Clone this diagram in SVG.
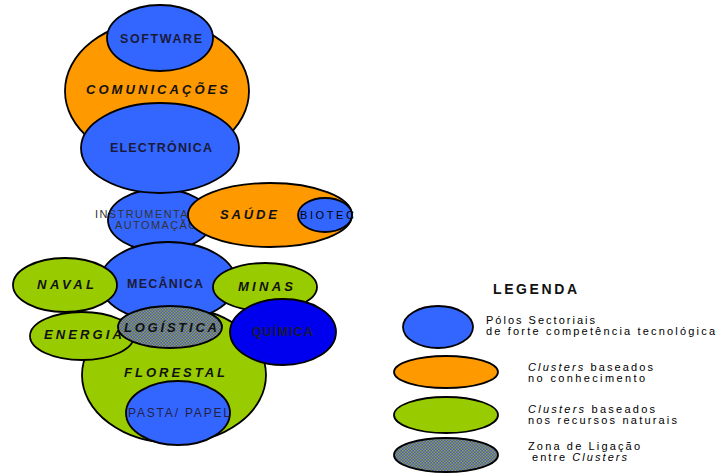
<svg xmlns="http://www.w3.org/2000/svg" width="716" height="473" viewBox="0 0 716 473">
<defs>
<pattern id="hatch" width="3" height="3" patternUnits="userSpaceOnUse">
<rect width="3" height="3" fill="#4a5fc8"/>
<rect x="0" y="0" width="1.5" height="1.5" fill="#8f9f40"/>
<rect x="1.5" y="1.5" width="1.5" height="1.5" fill="#8f9f40"/>
</pattern>
</defs>
<style>
ellipse{stroke:#000;stroke-width:1.8}
.b{fill:#3366ff}
.o{fill:#ff9900}
.g{fill:#99cc00}
.q{fill:#0000ee}
.h{fill:url(#hatch)}
text{font-family:"Liberation Sans",Arial,sans-serif}
.lb{font-size:12.5px;font-weight:bold;fill:#1a1a3a}
.li{font-size:13px;font-weight:bold;font-style:italic;fill:#111}
.lr{font-size:12px;fill:#222244}
.lg{font-size:11px;fill:#000}
.ls{font-size:11px;fill:#333}
</style>
<rect width="716" height="473" fill="#fff"/>

<g id="comunicacoes">
<ellipse class="o" cx="157" cy="91" rx="92" ry="70"/>
<text class="li" x="86" y="94" textLength="142" lengthAdjust="spacing">COMUNICAÇÕES</text>
</g>
<g id="software">
<ellipse class="b" cx="160" cy="38" rx="53" ry="33"/>
<text class="lb" x="120" y="43" textLength="82" lengthAdjust="spacing">SOFTWARE</text>
</g>
<g id="instrumentacao">
<ellipse class="b" cx="160" cy="220" rx="52" ry="31"/>
<text class="ls" x="95" y="218" letter-spacing="1.4">INSTRUMENTAÇÃO</text>
<text class="ls" x="115" y="229" letter-spacing="1.4">AUTOMAÇÃO</text>
</g>
<g id="electronica">
<ellipse class="b" cx="160" cy="148" rx="79" ry="45"/>
<text class="lb" x="110" y="152" textLength="102" lengthAdjust="spacing">ELECTRÓNICA</text>
</g>
<g id="saude">
<ellipse class="o" cx="270" cy="215" rx="82" ry="32"/>
<text class="li" x="220" y="219" textLength="57" lengthAdjust="spacing">SAÚDE</text>
</g>
<g id="biotec">
<ellipse class="b" cx="325" cy="215" rx="27" ry="17"/>
<text class="lg" x="300" y="219" textLength="54" lengthAdjust="spacing">BIOTEC</text>
</g>
<g id="florestal">
<ellipse class="g" cx="174" cy="375" rx="92" ry="68"/>
<text class="li" x="124" y="377" textLength="101" lengthAdjust="spacing">FLORESTAL</text>
</g>
<g id="mecanica">
<ellipse class="b" cx="168" cy="282" rx="68" ry="40"/>
<text class="lb" x="127" y="288" textLength="76" lengthAdjust="spacing">MECÂNICA</text>
</g>
<g id="naval">
<ellipse class="g" cx="65" cy="285" rx="52" ry="27"/>
<text class="li" x="37" y="289" textLength="57" lengthAdjust="spacing">NAVAL</text>
</g>
<g id="minas">
<ellipse class="g" cx="265" cy="287" rx="52" ry="24"/>
<text class="li" x="238" y="291" textLength="55" lengthAdjust="spacing">MINAS</text>
</g>
<g id="energia">
<ellipse class="g" cx="82" cy="336" rx="52" ry="24"/>
<text class="li" x="44" y="339" textLength="78" lengthAdjust="spacing">ENERGIA</text>
</g>
<g id="logistica">
<ellipse class="h" cx="170" cy="327" rx="52" ry="21"/>
<text class="li" x="124" y="332" textLength="93" lengthAdjust="spacing">LOGÍSTICA</text>
</g>
<g id="quimica">
<ellipse class="q" cx="283" cy="332" rx="53" ry="33"/>
<text class="lb" x="252" y="336" textLength="61" lengthAdjust="spacing">QUÍMICA</text>
</g>
<g id="pasta-papel">
<ellipse class="b" cx="178" cy="413" rx="52" ry="32"/>
<text class="lr" x="128" y="417" textLength="102" lengthAdjust="spacing">PASTA/ PAPEL</text>
</g>

<g id="legenda">
<text x="493" y="294" font-size="14" font-weight="bold" fill="#111" textLength="84" lengthAdjust="spacing">LEGENDA</text>
<ellipse class="b" cx="438" cy="327" rx="35" ry="21"/>
<text class="lg" x="486" y="324" textLength="109" lengthAdjust="spacing">Pólos Sectoriais</text>
<text class="lg" x="486" y="335" textLength="229" lengthAdjust="spacing">de forte competência tecnológica</text>
<ellipse class="o" cx="446" cy="372" rx="52" ry="16"/>
<text class="lg" x="528" y="371" textLength="125" lengthAdjust="spacing"><tspan font-style="italic">Clusters</tspan> baseados</text>
<text class="lg" x="528" y="382" textLength="117" lengthAdjust="spacing">no conhecimento</text>
<ellipse class="g" cx="446" cy="415" rx="52" ry="18"/>
<text class="lg" x="528" y="413" textLength="127" lengthAdjust="spacing"><tspan font-style="italic">Clusters</tspan> baseados</text>
<text class="lg" x="528" y="424" textLength="149" lengthAdjust="spacing">nos recursos naturais</text>
<ellipse class="h" cx="446" cy="455" rx="52" ry="17"/>
<text class="lg" x="528" y="450" textLength="112" lengthAdjust="spacing">Zona de Ligação</text>
<text class="lg" x="532" y="461" textLength="95" lengthAdjust="spacing">entre <tspan font-style="italic">Clusters</tspan></text>
</g>
</svg>
